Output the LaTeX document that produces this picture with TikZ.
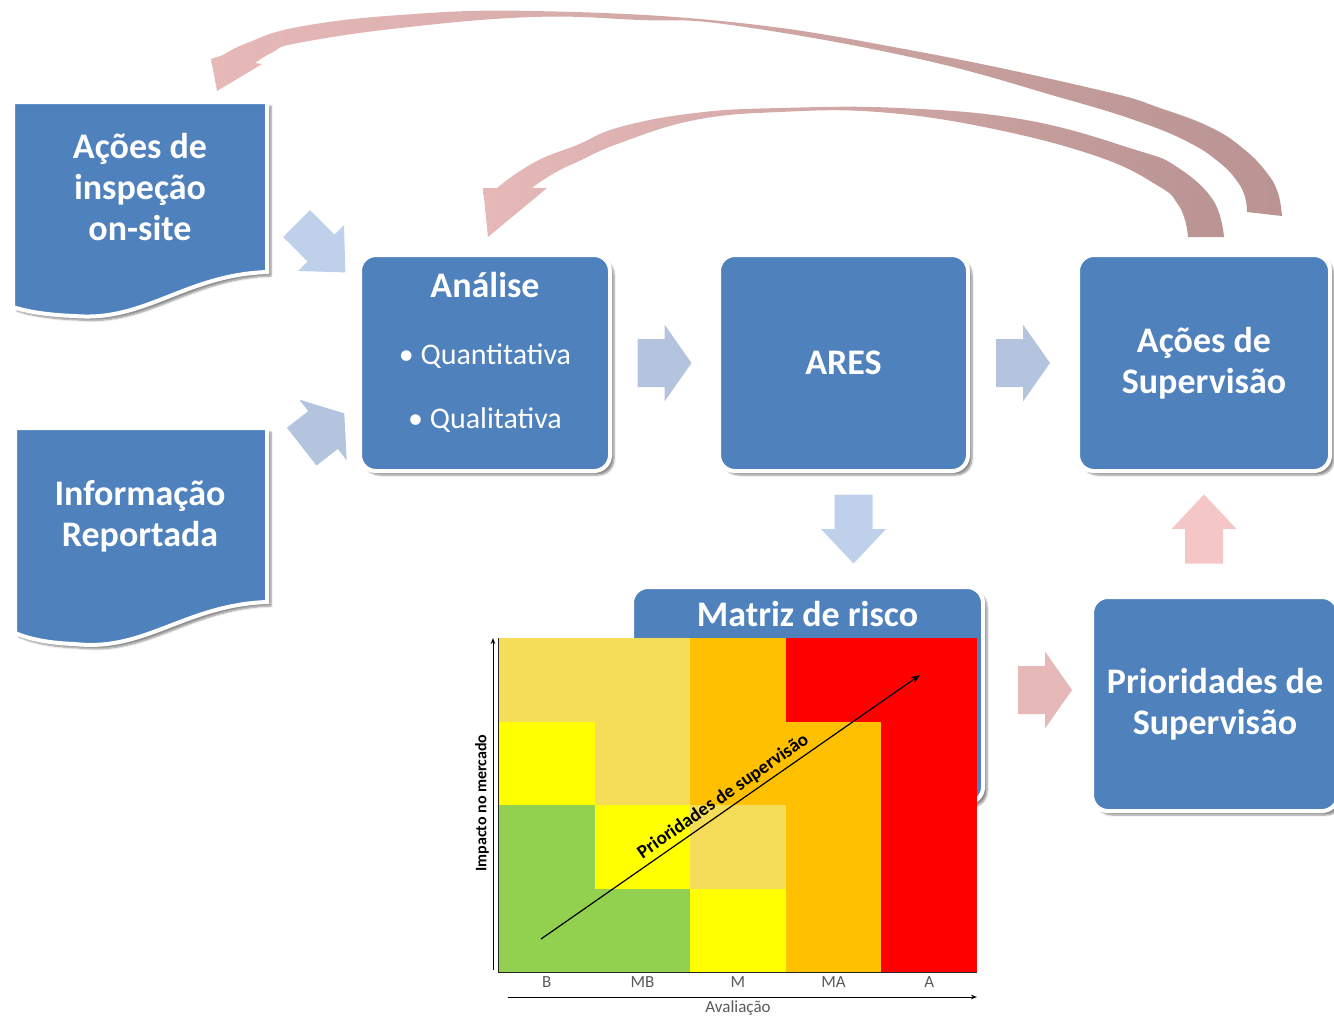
\documentclass[tikz,border=0pt]{standalone}
\usepackage{fontspec}
\setmainfont{Carlito}
\usetikzlibrary{positioning,calc,shadows.blur,arrows.meta}
\definecolor{boxblue}{HTML}{4F81BD}
\definecolor{arrowblue}{HTML}{B4C4DF}
\definecolor{arrowblue2}{HTML}{BED0EA}
\definecolor{arcpink}{HTML}{E6B9B8}
\definecolor{arcmauve}{HTML}{B99492}
\definecolor{uppink}{HTML}{F4C6C6}
\definecolor{mgreen}{HTML}{92D050}
\definecolor{myellow}{HTML}{FFFF00}
\definecolor{mlight}{HTML}{F5DC59}
\definecolor{morange}{HTML}{FFC000}
\definecolor{mred}{HTML}{FF0000}
\definecolor{axisgray}{HTML}{595959}

\tikzset{
  shadowed/.style={blur shadow={shadow xshift=4pt, shadow yshift=-4pt, shadow opacity=45, shadow blur steps=6}},
  box/.style={rectangle, rounded corners=16pt, fill=boxblue, draw=white, line width=4pt, shadowed,
    text=white, font=\fontsize{36}{41}\selectfont\bfseries, align=center, inner sep=0pt},
  docshape/.style={fill=boxblue, draw=white, line width=4pt, shadowed},
  titletext/.style={text=white, font=\fontsize{36}{41}\selectfont\bfseries, align=center, inner sep=0pt},
  bullettext/.style={text=white, font=\fontsize{30}{36}\selectfont, inner sep=0pt},
  axislabel/.style={text=axisgray, font=\fontsize{17}{20}\selectfont, inner sep=0pt},
  arcshade/.style={left color=arcpink, middle color=arcpink!55!arcmauve, right color=arcmauve},
  pics/widearrow/.style={code={\path[pic actions] (-27,-24) -- (0,-24) -- (0,-38.5) -- (27,0) -- (0,38.5) -- (0,24) -- (-27,24) -- cycle;}},
  pics/tallarrow/.style={code={\path[pic actions] (-34.5,-19) -- (0,-19) -- (0,-32.5) -- (34.5,0) -- (0,32.5) -- (0,19) -- (-34.5,19) -- cycle;}},
}

\begin{document}
\begin{tikzpicture}[x=1pt, y=-1pt]
  \useasboundingbox (0,0) rectangle (1334,1018);

  % feedback arcs
  \shade[arcshade]
    plot[smooth, tension=0.7] coordinates {(1282,216) (1278,193) (1267,173) (1245,150) (1212,128) (1160,108) (1099,90) (915,51) (731,22) (533,11) (400,15) (298,27) (247,43) (223,55)}
    -- (211,59) -- (217,91) -- (262,64) --
    plot[smooth, tension=0.7] coordinates {(255,63) (273,52) (298,43) (400,28) (533,17) (640,20) (731,25) (915,58) (1062,98) (1140,122) (1190,143) (1220,163) (1237,181) (1245,197) (1247,212)}
    -- cycle;
  \shade[arcshade]
    plot[smooth, tension=0.7] coordinates {(1224,237) (1213,200) (1177,167) (1136,150) (1026,120) (900,108) (780,108) (695,113) (620,127) (577,145) (543,158) (517,173) (497,188)}
    -- (483,188) -- (488,237) -- (547,188) --
    plot[smooth, tension=0.7] coordinates {(532,188) (543,180) (560,170) (577,162) (620,143) (695,120) (780,112) (878,112) (989,128) (1099,157) (1160,187) (1177,203) (1185,220) (1188,237)}
    -- cycle;

  % input documents
  \draw[docshape] (13,102) -- (267,102) -- (267,272) .. controls (185,275) and (145,322) .. (75,316) .. controls (45,315) and (25,311) .. (13,307) -- cycle;
  \node[titletext] (inspecao) at (140,187) {Ações de\\inspeção\\on-site};
  \draw[docshape] (15,428) -- (267,428) -- (267,602) .. controls (185,605) and (145,652) .. (75,644) .. controls (45,643) and (27,638) .. (15,633) -- cycle;
  \node[titletext] (informacao) at (140,516) {Informação\\Reportada};

  % process boxes
  \node[box, minimum width=250pt, minimum height=216pt] (analise) at (485,363) {};
  \node[titletext, anchor=base] (analisetitle) at ($(analise.north)+(0,44)$) {Análise};
  \node[bullettext, anchor=base] (quanti) at ($(analise.north)+(0,111)$) {• Quantitativa};
  \node[bullettext, anchor=base] (quali) at ($(analise.north)+(0,175)$) {• Qualitativa};
  \node[box, minimum width=249pt, minimum height=216pt] (ares) at (843.5,363) {ARES};
  \node[box, minimum width=252pt, minimum height=216pt] (acoes) at (1204,363) {Ações de\\Supervisão};
  \node[box, minimum width=351pt, minimum height=216pt] (matriz) at (807.5,695) {};
  \node[titletext, anchor=base] (matriztitle) at ($(matriz.north)+(0,41)$) {Matriz de risco};
  \node[box, minimum width=246pt, minimum height=214pt] (prioridades) at (1215,704) {Prioridades de\\Supervisão};

  % block arrows
  \pic[fill=arrowblue2, rotate=-45] at ([shift={(-37,-115)}]analise.west) {tallarrow};
  \pic[fill=arrowblue, rotate=38] at ([shift={(-35,67)}]analise.west) {widearrow};
  \pic[fill=arrowblue] at ($(analise.east)!.5!(ares.west)$) {widearrow};
  \pic[fill=arrowblue] at ($(ares.east)!.5!(acoes.west)$) {widearrow};
  \pic[fill=arrowblue2, rotate=-90] at ([xshift=10pt]$(ares.south)!.5!(ares.south|-matriz.north)$) {tallarrow};
  \pic[fill=uppink, rotate=90] at ([yshift=5pt]$(acoes.south)!.5!(acoes.south|-prioridades.north)$) {tallarrow};
  \pic[fill=arcpink] at ([shift={(7.5,-9.5)}]$(matriz.east)!.5!(prioridades.west)$) {widearrow};

  % risk matrix
  \foreach \row [count=\r from 0] in {{mlight,mlight,morange,mred,mred},{myellow,mlight,morange,morange,mred},{mgreen,myellow,mlight,morange,mred},{mgreen,mgreen,myellow,morange,mred}}
    \foreach \c [count=\k from 0] in \row
      \fill[\c] (499+\k*95.6, 638+\r*83.5) rectangle ++(95.6,83.5);
  \draw[line width=1pt, black!85] (498,638) -- (498,972) -- (977,972);
  \draw[-{Stealth[length=6pt]}, line width=1pt] (493,970) -- (493,638);
  \draw[-{Stealth[length=6pt]}, line width=1pt] (508,997) -- (977,997);
  \foreach \lab [count=\k from 0] in {B,MB,M,MA,A}
    \node[axislabel] at (546.8+\k*95.6, 982) {\lab};
  \node[axislabel] (avaliacao) at (738,1008) {Avaliação};
  \node[font=\fontsize{16}{19}\selectfont\bfseries, rotate=90, inner sep=0pt] (impacto) at (482,803) {Impacto no mercado};
  \coordinate (lowrisk) at (541,939);
  \coordinate (highrisk) at (920,675);
  \draw[-{Stealth[length=9pt]}, line width=1.2pt] (lowrisk) -- (highrisk)
    node[midway, above=4pt, sloped, font=\fontsize{19}{22}\selectfont\bfseries, inner sep=0pt] {Prioridades de supervisão};
\end{tikzpicture}
\end{document}
